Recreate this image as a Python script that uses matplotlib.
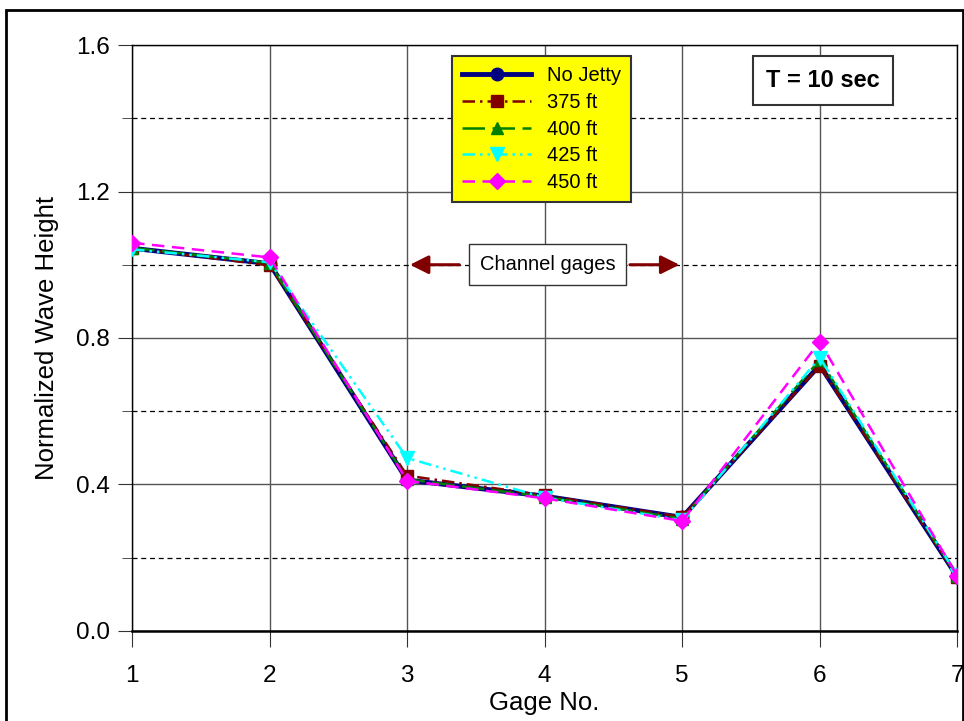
"""
Normalized wave height at channel gages, T = 10 sec
"""
import matplotlib.pyplot as plt
from matplotlib.patches import Rectangle

plt.rcParams['font.family'] = ['Liberation Sans', 'DejaVu Sans']

# 数据
gages = [1, 2, 3, 4, 5, 6, 7]
no_jetty = [1.045, 1.003, 0.412, 0.368, 0.310, 0.726, 0.148]
ft_375 = [1.046, 0.998, 0.424, 0.370, 0.311, 0.724, 0.148]
ft_400 = [1.046, 1.005, 0.414, 0.366, 0.306, 0.740, 0.150]
ft_425 = [1.042, 1.007, 0.472, 0.364, 0.302, 0.746, 0.152]
ft_450 = [1.060, 1.020, 0.410, 0.362, 0.300, 0.790, 0.150]
yticks = [0.0, 0.4, 0.8, 1.2, 1.6]
minor_y = [0.2, 0.6, 1.0, 1.4]

fig = plt.figure(figsize=(9.64, 7.21), dpi=100)
ax = fig.add_axes([0.137, 0.125, 0.856, 0.8125])

# 外框
fig.patches.append(Rectangle((0.006, -0.01), 0.993, 0.996, transform=fig.transFigure,
                             fill=False, edgecolor='black', linewidth=2))

ax.plot(gages, no_jetty, '-', color='#000080', lw=3.5, marker='o', ms=9, label='No Jetty', zorder=3)
ax.plot(gages, ft_375, color='#800000', lw=1.8, dashes=(5, 2, 1, 2), marker='s', ms=9,
        label='375 ft', zorder=4)
ax.plot(gages, ft_400, color='#008000', lw=1.8, dashes=(9, 3), marker='^', ms=9,
        label='400 ft', zorder=4)
ax.plot(gages, ft_425, color='#00FFFF', lw=1.8, dashes=(5, 2, 1, 2, 1, 2), marker='v', ms=10,
        label='425 ft', zorder=5)
ax.plot(gages, ft_450, color='#FF00FF', lw=1.8, dashes=(5, 3), marker='D', ms=8,
        label='450 ft', zorder=6)

ax.set_xlim(1, 7)
ax.set_ylim(0, 1.6)
ax.set_xticks(gages)
ax.set_yticks(yticks)
ax.set_yticks(minor_y, minor=True)
ax.set_yticklabels([f'{v:.1f}' for v in yticks])
ax.tick_params(labelsize=17.5, length=10, direction='out', color='#333333')
ax.tick_params(axis='y', which='minor', length=7, color='#333333')
ax.tick_params(axis='y', pad=6)
ax.tick_params(axis='x', length=11.5, pad=13)

ax.grid(True, which='major', color='#555555', lw=1.0)
for y in minor_y:
    ax.axhline(y, color='black', lw=0.9, dashes=(4, 3), zorder=1)
for s in ax.spines.values():
    s.set_linewidth(1.0)
ax.spines['bottom'].set_linewidth(1.8)
ax.set_axisbelow(True)

ax.set_xlabel('Gage No.', fontsize=18.5, labelpad=3)
ax.set_ylabel('Normalized Wave Height', fontsize=18.5, labelpad=12)

leg = ax.legend(loc='upper left', bbox_to_anchor=(0.388, 0.981), borderaxespad=0,
                fontsize=14.5, facecolor='yellow', edgecolor='#333333', framealpha=1,
                fancybox=False, handlelength=3.4, handletextpad=0.8, labelspacing=0.38,
                borderpad=0.5)
leg.get_frame().set_linewidth(1.5)

ax.text(0.8376, 0.940, 'T = 10 sec', transform=ax.transAxes, fontsize=17, fontweight='bold',
        ha='center', va='center',
        bbox=dict(boxstyle='square,pad=0.55', facecolor='white', edgecolor='#333333', lw=1.5))

ax.text(4.02, 1.0, 'Channel gages', fontsize=14.5, ha='center', va='center', zorder=7,
        bbox=dict(boxstyle='square,pad=0.55', facecolor='white', edgecolor='#333333', lw=1.0))
ax.annotate('', xy=(3.0, 1.0), xytext=(3.4, 1.0),
            arrowprops=dict(arrowstyle='-|>', color='#800000', lw=2.2, mutation_scale=28))
ax.annotate('', xy=(5.0, 1.0), xytext=(4.6, 1.0),
            arrowprops=dict(arrowstyle='-|>', color='#800000', lw=2.2, mutation_scale=28))

fig.savefig('out.png', dpi=100)
